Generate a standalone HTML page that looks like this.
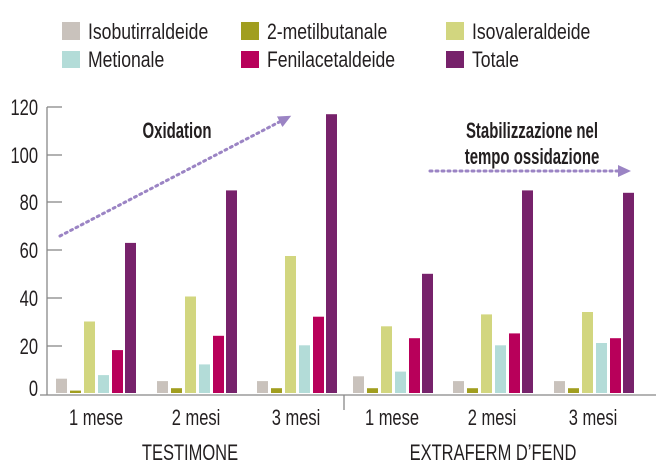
<!DOCTYPE html><html><head><meta charset="utf-8"><style>
body{margin:0;background:#fff}
svg text{font-family:"Liberation Sans",sans-serif}
</style></head><body>
<svg width="664" height="469" xmlns="http://www.w3.org/2000/svg">
<defs><marker id="ah" markerWidth="14" markerHeight="12" refX="6" refY="6" orient="auto" markerUnits="userSpaceOnUse"><path d="M0,0 L13,6 L0,12 Z" fill="#9b84c4"/></marker></defs>
<g font-size="22" fill="#231f20">
<rect x="62" y="22" width="18" height="18" fill="#c9c2bc"/><text x="88" y="39" transform="translate(88 0) scale(0.8 1) translate(-88 0)">Isobutirraldeide</text>
<rect x="62" y="51" width="18" height="17" fill="#b3dcd8"/><text x="88" y="67" transform="translate(88 0) scale(0.8 1) translate(-88 0)">Metionale</text>
<rect x="241" y="22" width="18" height="18" fill="#a19e1f"/><text x="267" y="39" transform="translate(267 0) scale(0.8 1) translate(-267 0)">2-metilbutanale</text>
<rect x="241" y="51" width="18" height="17" fill="#b8005a"/><text x="267" y="67" transform="translate(267 0) scale(0.8 1) translate(-267 0)">Fenilacetaldeide</text>
<rect x="446" y="22" width="18" height="18" fill="#d2d67f"/><text x="472" y="39" transform="translate(472 0) scale(0.8 1) translate(-472 0)">Isovaleraldeide</text>
<rect x="446" y="51" width="18" height="17" fill="#77226b"/><text x="472" y="67" transform="translate(472 0) scale(0.8 1) translate(-472 0)">Totale</text>
</g>
<g stroke="#888" stroke-width="1.3" fill="none">
<line x1="47" y1="107" x2="47" y2="395"/>
<line x1="40" y1="395" x2="656" y2="395"/>
<line x1="344" y1="395" x2="344" y2="410"/>
<line x1="47" y1="107" x2="62" y2="107"/><line x1="47" y1="155" x2="62" y2="155"/><line x1="47" y1="202" x2="62" y2="202"/><line x1="47" y1="250" x2="62" y2="250"/><line x1="47" y1="298" x2="62" y2="298"/><line x1="47" y1="346" x2="62" y2="346"/>
</g>
<g font-size="22" fill="#231f20" text-anchor="end">
<text x="38" y="115" transform="translate(38 0) scale(0.75 1) translate(-38 0)">120</text>
<text x="38" y="163" transform="translate(38 0) scale(0.75 1) translate(-38 0)">100</text>
<text x="38" y="210" transform="translate(38 0) scale(0.75 1) translate(-38 0)">80</text>
<text x="38" y="258" transform="translate(38 0) scale(0.75 1) translate(-38 0)">60</text>
<text x="38" y="306" transform="translate(38 0) scale(0.75 1) translate(-38 0)">40</text>
<text x="38" y="354" transform="translate(38 0) scale(0.75 1) translate(-38 0)">20</text>
<text x="38" y="396" transform="translate(38 0) scale(0.75 1) translate(-38 0)">0</text>
</g>
<g>
<rect x="56" y="378.7" width="11" height="14.3" fill="#c9c2bc"/><rect x="70" y="390.6" width="11" height="2.4" fill="#a19e1f"/><rect x="84" y="321.5" width="11" height="71.5" fill="#d2d67f"/><rect x="98" y="375.1" width="11" height="17.9" fill="#b3dcd8"/><rect x="112" y="350.1" width="11" height="42.9" fill="#b8005a"/><rect x="125" y="242.9" width="11" height="150.1" fill="#77226b"/>
<rect x="157" y="381.1" width="11" height="11.9" fill="#c9c2bc"/><rect x="171" y="388.2" width="11" height="4.8" fill="#a19e1f"/><rect x="185" y="296.5" width="11" height="96.5" fill="#d2d67f"/><rect x="199" y="364.4" width="11" height="28.6" fill="#b3dcd8"/><rect x="213" y="335.8" width="11" height="57.2" fill="#b8005a"/><rect x="226" y="190.4" width="11" height="202.6" fill="#77226b"/>
<rect x="257" y="381.1" width="11" height="11.9" fill="#c9c2bc"/><rect x="271" y="388.2" width="11" height="4.8" fill="#a19e1f"/><rect x="285" y="256" width="11" height="137" fill="#d2d67f"/><rect x="299" y="345.3" width="11" height="47.7" fill="#b3dcd8"/><rect x="313" y="316.7" width="11" height="76.3" fill="#b8005a"/><rect x="326" y="114.2" width="11" height="278.8" fill="#77226b"/>
<rect x="353" y="376.3" width="11" height="16.7" fill="#c9c2bc"/><rect x="367" y="388.2" width="11" height="4.8" fill="#a19e1f"/><rect x="381" y="326.3" width="11" height="66.7" fill="#d2d67f"/><rect x="395" y="371.6" width="11" height="21.4" fill="#b3dcd8"/><rect x="409" y="338.2" width="11" height="54.8" fill="#b8005a"/><rect x="422" y="273.8" width="11" height="119.2" fill="#77226b"/>
<rect x="453" y="381.1" width="11" height="11.9" fill="#c9c2bc"/><rect x="467" y="388.2" width="11" height="4.8" fill="#a19e1f"/><rect x="481" y="314.4" width="11" height="78.6" fill="#d2d67f"/><rect x="495" y="345.3" width="11" height="47.7" fill="#b3dcd8"/><rect x="509" y="333.4" width="11" height="59.6" fill="#b8005a"/><rect x="522" y="190.4" width="11" height="202.6" fill="#77226b"/>
<rect x="554" y="381.1" width="11" height="11.9" fill="#c9c2bc"/><rect x="568" y="388.2" width="11" height="4.8" fill="#a19e1f"/><rect x="582" y="312" width="11" height="81" fill="#d2d67f"/><rect x="596" y="343" width="11" height="50" fill="#b3dcd8"/><rect x="610" y="338.2" width="11" height="54.8" fill="#b8005a"/><rect x="623" y="192.8" width="11" height="200.2" fill="#77226b"/>
</g>
<g font-size="22" fill="#231f20" text-anchor="middle">
<text x="96" y="425" transform="translate(96 0) scale(0.75 1) translate(-96 0)">1 mese</text>
<text x="196" y="425" transform="translate(196 0) scale(0.75 1) translate(-196 0)">2 mesi</text>
<text x="296" y="425" transform="translate(296 0) scale(0.75 1) translate(-296 0)">3 mesi</text>
<text x="392" y="425" transform="translate(392 0) scale(0.75 1) translate(-392 0)">1 mese</text>
<text x="492" y="425" transform="translate(492 0) scale(0.75 1) translate(-492 0)">2 mesi</text>
<text x="593" y="425" transform="translate(593 0) scale(0.75 1) translate(-593 0)">3 mesi</text>
<text x="190" y="460" transform="translate(190 0) scale(0.75 1) translate(-190 0)">TESTIMONE</text>
<text x="493" y="460" transform="translate(493 0) scale(0.75 1) translate(-493 0)">EXTRAFERM D’FEND</text>
</g>
<g font-size="22" font-weight="bold" fill="#231f20" text-anchor="middle">
<text x="177" y="138" transform="translate(177 0) scale(0.68 1) translate(-177 0)">Oxidation</text>
<text x="532" y="138" transform="translate(532 0) scale(0.68 1) translate(-532 0)">Stabilizzazione nel</text>
<text x="532" y="164" transform="translate(532 0) scale(0.68 1) translate(-532 0)">tempo ossidazione</text>
</g>
<g stroke="#9b84c4" stroke-width="3" stroke-dasharray="2 4" stroke-linecap="round" fill="none">
<line x1="60" y1="236" x2="285" y2="119" marker-end="url(#ah)"/>
<line x1="430" y1="171" x2="624" y2="171" marker-end="url(#ah)"/>
</g>
</svg>
</body></html>
